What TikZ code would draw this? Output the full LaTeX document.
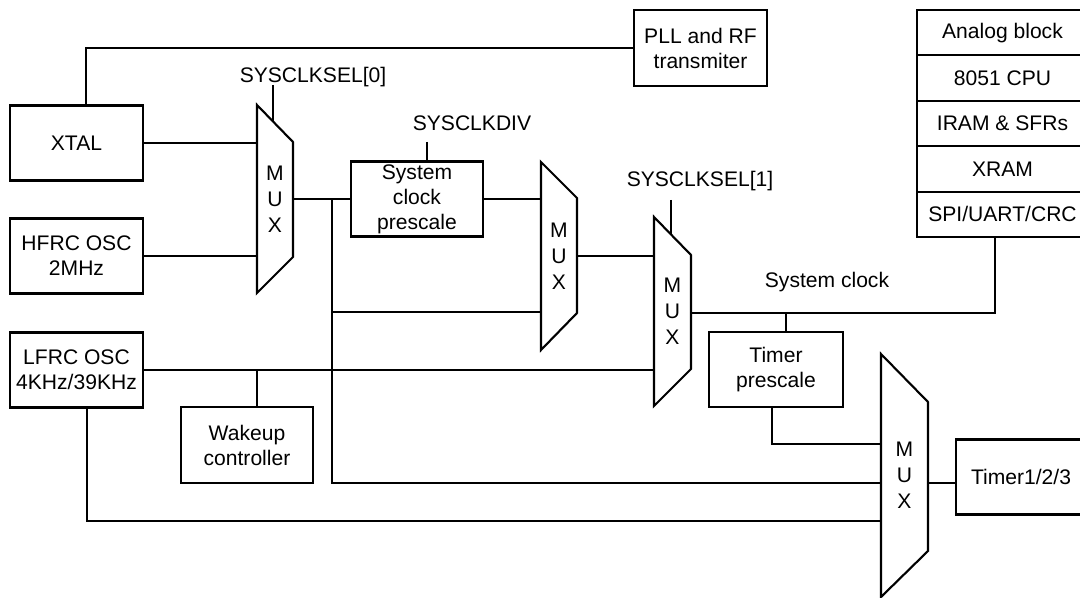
\documentclass[tikz,border=0pt]{standalone}
\usepackage{fontspec}
\setmainfont{Liberation Sans}
\usetikzlibrary{calc}

\begin{document}
\begin{tikzpicture}[x=0.02cm,y=-0.02cm,
		box/.style={draw,line width=1.2pt,inner sep=0pt,align=center,minimum width=2.66cm,minimum height=1.5cm,font=\fontsize{12}{14.2}\selectfont},
		lbl/.style={inner sep=0pt,font=\fontsize{12}{14.2}\selectfont},
		muxtxt/.style={inner sep=0pt,align=center,font=\fontsize{12}{14.8}\selectfont},
		wire/.style={line width=1.2pt},
		twire/.style={line width=0.6pt}]
			\useasboundingbox (0,0) rectangle (1080,598);
			% blocks
			\node[box] (xtal) at (76.5,143) {XTAL};
			\node[box] (hfrc) at (76.5,256) {HFRC OSC\\2MHz};
			\node[box] (lfrc) at (76.5,370) {LFRC OSC\\4KHz/39KHz};
			\node[box,minimum width=2.64cm,minimum height=1.52cm] (wake) at (247,445) {Wakeup\\controller};
			\node[box,minimum height=1.52cm] (pll) at (700.5,48) {PLL and RF\\transmiter};
			\node[box,minimum width=2.64cm] (pre) at (417,199) {System\\clock\\prescale};
			\node[box,minimum width=2.68cm] (tpre) at (776,369.5) {Timer\\prescale};
			\node[box,minimum width=2.6cm] (timer) at (1021,477) {Timer1/2/3};
			\foreach \t [count=\i] in {Analog block,8051 CPU,IRAM \& SFRs,XRAM,SPI/UART/CRC}
				\node[box,minimum width=3.42cm,minimum height=0.908cm] (blk\i) at (1002.5,{10+45.4*(\i-0.5)}) {\t};
			% multiplexers
			\draw[wire] (257,105) -- (293,142) -- (293,257) -- (257,293) -- cycle;
			\draw[wire] (541,162) -- (577,198) -- (577,313) -- (541,350) -- cycle;
			\draw[wire] (654,217) -- (691,255) -- (691,369) -- (654,406) -- cycle;
			\draw[wire] (881,354) -- (928,402) -- (928,551) -- (881,597) -- cycle;
			\node[muxtxt] (mux1) at (275,199) {M\\U\\X};
			\node[muxtxt] (mux2) at (559,256) {M\\U\\X};
			\node[muxtxt] (mux3) at (672.5,311.5) {M\\U\\X};
			\node[muxtxt] (mux4) at (904.5,475.5) {M\\U\\X};
			\coordinate (m1in) at (257,199);
			\coordinate (m1out) at (293,199);
			\coordinate (m2in) at (541,256);
			\coordinate (m2in2) at (541,312);
			\coordinate (m2out) at (577,256);
			\coordinate (m3in) at (654,312);
			\coordinate (m3out) at (691,313);
			\coordinate (m4in1) at (881,444);
			\coordinate (m4in2) at (881,483);
			\coordinate (m4in3) at (881,521);
			\coordinate (m4out) at (928,483);
			% select lines
			\node[lbl] (sel0) at (313,77) {SYSCLKSEL[0]};
			\node[lbl] (div) at (472,123) {SYSCLKDIV};
			\node[lbl] (sel1) at (700,181) {SYSCLKSEL[1]};
			\node[lbl] (sysclk) at (827,282) {System clock};
			\coordinate (s0top) at (273,85);
			\coordinate (s0bot) at (273,121.4);
			\coordinate (divtop) at (427,142);
			\coordinate (s1top) at (671,200);
			\coordinate (s1bot) at (671,234.5);
			\draw[wire] (s0top) -- (s0bot);
			\draw[wire] (divtop) -- (divtop |- pre.north);
			\draw[wire] (s1top) -- (s1bot);
			% clock paths
			\coordinate (xup) at (86,48);
			\coordinate (bus) at (332,199);
			\coordinate (wtap) at (257,370);
			\coordinate (lfx) at (87,521);
			\coordinate (clk) at (995,313);
			\coordinate (ttap) at (786,313);
			\coordinate (tpx) at (772,444);
			\draw[wire] (xtal.north -| xup) |- (pll.west);
			\draw[wire] (xtal.east) -- (xtal.east -| m1in);
			\draw[wire] (hfrc.east) -- (hfrc.east -| m1in);
			\draw[twire] (m1out) -- (m1out -| pre.west);
			\draw[wire] (bus) |- (m4in2);
			\draw[wire] (bus |- m2in2) -- (m2in2);
			\draw[twire] (pre.east) -- (pre.east -| m2in);
			\draw[wire] (m2out) -- (m2out -| m3in);
			\draw[wire] (lfrc.east) -- (lfrc.east -| m3in);
			\draw[twire] (wtap) -- (wtap |- wake.north);
			\draw[wire] (lfrc.south -| lfx) |- (m4in3);
			\draw[wire] (m3out) -- (clk) -- (clk |- blk5.south);
			\draw[twire] (ttap) -- (ttap |- tpre.north);
			\draw[wire] (tpre.south -| tpx) |- (m4in1);
			\draw[wire] (m4out) -- (m4out -| timer.west);
		\end{tikzpicture}
\end{document}
